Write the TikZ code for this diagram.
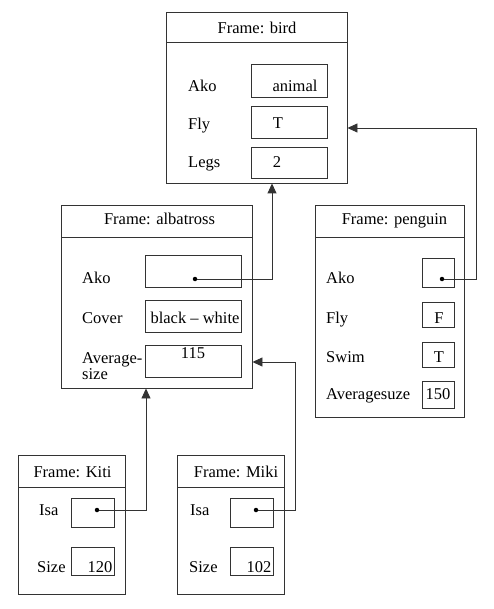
\documentclass[tikz,border=0pt]{standalone}
\usepackage{fontspec}
\setmainfont{Liberation Serif}
\usetikzlibrary{arrows.meta}

\begin{document}
\begin{tikzpicture}[x=1pt,y=-1pt,
	every node/.style={font=\fontsize{16.5}{18}\selectfont, text=black},
	frame/.style={draw=black!80, line width=0.9pt, inner sep=0pt},
	slot/.style={draw=black!80, line width=0.9pt, inner sep=0pt},
	lbl/.style={anchor=base west, inner sep=0pt},
	val/.style={anchor=base, inner sep=0pt},
	dot/.style={circle, fill=black, inner sep=0pt, minimum size=4.5pt},
	ptr/.style={draw=black!80, line width=0.9pt, -{Triangle[length=10pt,width=9pt]}},
]
\useasboundingbox (0,0) rectangle (494,609);

%Bird Frame
\node [frame,
	minimum width=181,
	minimum height=171,
]  (fbird)at (256.5,97.5) {};
\node [frame,
	minimum width=181,
	minimum height=30,
]  (birdhead)at (256.5,27) {};
\node [val]  (birdtitle)at (257,34) {Frame: bird};

\node [slot, minimum width=76, minimum height=33]  (birdako)at (289,80.5) {};
\node [slot, minimum width=76, minimum height=32]  (birdfly)at (289,122) {};
\node [slot, minimum width=76, minimum height=31]  (birdlegs)at (289,162.5) {};
\node [lbl]  at (188,92) {Ako};
\node [lbl]  at (188,130) {Fly};
\node [lbl]  at (188,168) {Legs};
\node [val]  at (295,92) {animal};
\node [val]  at (278,129) {T};
\node [val]  at (277,168) {2};

%Albatross Frame
\node [frame,
	minimum width=191,
	minimum height=183,
]  (falb)at (156.5,296.5) {};
\node [frame,
	minimum width=191,
	minimum height=32,
]  (albhead)at (156.5,221) {};
\node [val]  (albtitle)at (159.5,225) {Frame: albatross};

\node [slot, minimum width=96, minimum height=32]  (albako)at (193,271) {};
\node [slot, minimum width=96, minimum height=32]  (albcover)at (193,316) {};
\node [slot, minimum width=96, minimum height=32]  (albavg)at (193,361) {};
\node [lbl]  at (82,283) {Ako};
\node [lbl]  at (82,323) {Cover};
\node [lbl]  at (82,363) {Average-};
\node [lbl]  at (82,379) {size};
\node [val]  at (195,323) {black -- white};
\node [val]  at (193,358) {115};
\node [dot]  (albakodot)at (195,279) {};

%Penguin Frame
\node [frame,
	minimum width=149,
	minimum height=212,
]  (fpeng)at (389.5,311) {};
\node [frame,
	minimum width=149,
	minimum height=32,
]  (penghead)at (389.5,221) {};
\node [val]  (pengtitle)at (394.5,225) {Frame: penguin};

\node [slot, minimum width=32, minimum height=29]  (pengako)at (438,272.5) {};
\node [slot, minimum width=32, minimum height=25]  (pengfly)at (438,314.5) {};
\node [slot, minimum width=32, minimum height=25]  (pengswim)at (438,354.5) {};
\node [slot, minimum width=32, minimum height=27]  (pengavg)at (438,394.5) {};
\node [lbl]  at (326,283) {Ako};
\node [lbl]  at (326,323) {Fly};
\node [lbl]  at (326,362) {Swim};
\node [lbl]  at (326,399) {Averagesuze};
\node [val]  at (439,323) {F};
\node [val]  at (439,362) {T};
\node [val]  at (438,399) {150};
\node [dot]  (pengakodot)at (442,279) {};

%Kiti Frame
\node [frame,
	minimum width=107,
	minimum height=139,
]  (fkiti)at (71.5,524.5) {};
\node [frame,
	minimum width=107,
	minimum height=32,
]  (kitihead)at (71.5,471) {};
\node [val]  (kitititle)at (72.5,477) {Frame: Kiti};

\node [slot, minimum width=43, minimum height=29]  (kitiisa)at (92.5,512.5) {};
\node [slot, minimum width=43, minimum height=28]  (kitisize)at (92.5,561) {};
\node [lbl]  at (39,515) {Isa};
\node [lbl]  at (37,572) {Size};
\node [val]  at (100,572) {120};
\node [dot]  (kitiisadot)at (97,510) {};

%Miki Frame
\node [frame,
	minimum width=107,
	minimum height=139,
]  (fmiki)at (230.5,524.5) {};
\node [frame,
	minimum width=107,
	minimum height=32,
]  (mikihead)at (230.5,471) {};
\node [val]  (mikititle)at (236,477) {Frame: Miki};

\node [slot, minimum width=43, minimum height=29]  (mikiisa)at (251.5,512.5) {};
\node [slot, minimum width=43, minimum height=28]  (mikisize)at (251.5,561) {};
\node [lbl]  at (190,515) {Isa};
\node [lbl]  at (189,572) {Size};
\node [val]  at (259,572) {102};
\node [dot]  (mikiisadot)at (256,510) {};

%Links
\draw[ptr]  (albakodot) -| ([xshift=15.5]fbird.south);
\draw[ptr]  (pengakodot) -- ++(34,0) |- ([yshift=-30.5]fbird.east);
\draw[ptr]  (kitiisadot) -| ([xshift=-10.5]falb.south);
\draw[ptr]  (mikiisadot) -- ++(39,0) |- ([yshift=-65.5]falb.east);

\end{tikzpicture}
\end{document}
